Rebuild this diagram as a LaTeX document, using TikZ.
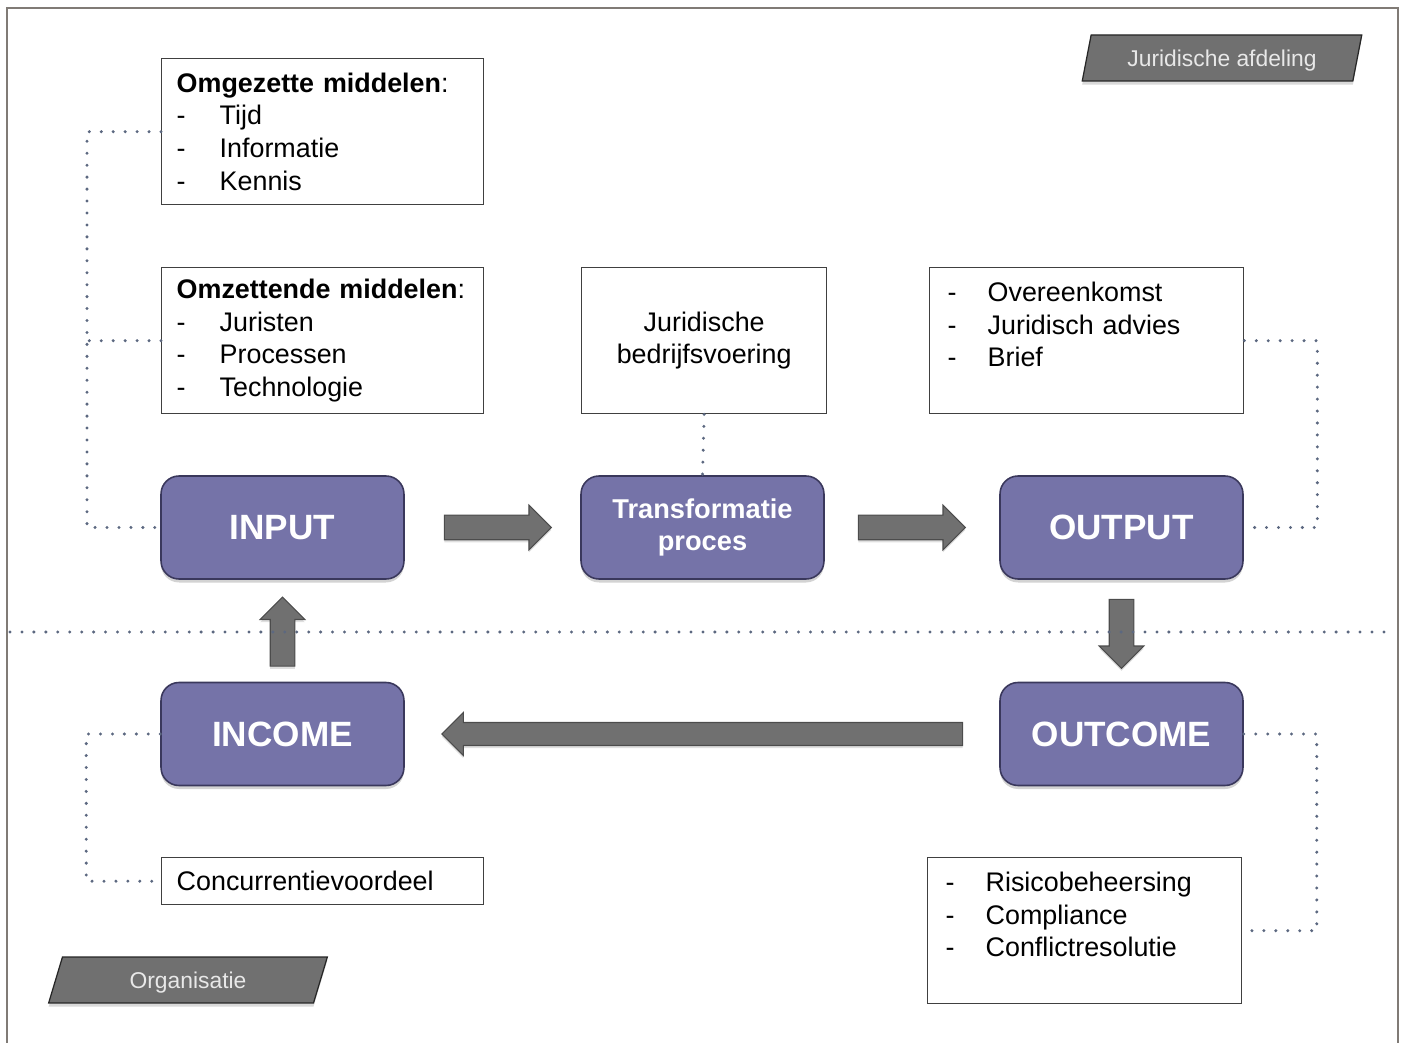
\documentclass[tikz,border=0pt]{standalone}
\usepackage{fontspec}
\setmainfont{Liberation Sans}
\usepackage{xcolor}
\usepackage{tikz}
\usetikzlibrary{shapes,arrows,positioning,calc,shadows}

\definecolor{phasefill}{RGB}{117,115,168}
\definecolor{phaseline}{RGB}{58,56,92}
\definecolor{arrowfill}{RGB}{112,112,112}
\definecolor{dotcol}{RGB}{92,104,128}
\definecolor{framecol}{RGB}{128,123,118}
\definecolor{tagfill}{RGB}{112,112,112}
\definecolor{tagtext}{RGB}{232,232,232}

\tikzset{
  phase/.style={rectangle, rounded corners=0.36cm, draw=phaseline, line width=0.9pt, fill=phasefill,
    text=white, font=\fontsize{20}{24}\selectfont\bfseries, align=center,
    minimum width=4.86cm, minimum height=2.06cm,
    drop shadow={shadow xshift=0pt, shadow yshift=-2pt, opacity=0.35}},
  infobox/.style={rectangle, draw=black!75, line width=0.8pt, fill=white, anchor=north west,
    font=\fontsize{15.3}{18.6}\selectfont, align=left, inner xsep=0.3cm, inner ysep=0pt},
  tag/.style={trapezium, trapezium stretches=true, trapezium left angle=76, trapezium right angle=104,
    draw=black!85, line width=0.7pt, fill=tagfill, text=tagtext, font=\fontsize{13}{15}\selectfont,
    minimum height=0.92cm, minimum width=5.6cm, inner sep=0pt, text height=1.2em,
    drop shadow={shadow xshift=0pt, shadow yshift=-2pt, opacity=0.3}},
  fatarrow/.style={single arrow, draw=black!70, line width=0.6pt, fill=arrowfill,
    inner sep=0.235cm, single arrow head extend=0.2cm, anchor=tail,
    drop shadow={shadow xshift=0pt, shadow yshift=-1.5pt, opacity=0.25}},
  dotline/.style={dotcol, line width=1.9pt, line cap=round, dash pattern=on 0pt off 6.8pt},
}

\newcommand{\li}[2][0.86cm]{\makebox[#1][l]{-}#2}

\begin{document}
\begin{tikzpicture}[x=0.02cm, y=-0.02cm]
    \useasboundingbox (0,0) rectangle (1404,1043);

    % frame
    \draw[framecol, line width=1.4pt] (7,1043) -- (7,8) -- (1398,8) -- (1398,1043);

    % section tags
    \node[tag] (jurtag) at (1222,58) {Juridische afdeling};
    \node[tag] (orgtag) at (188,980) {Organisatie};

    % upper boxes
    \node[infobox, text width=5.84cm, minimum height=2.92cm] (omgezet) at (161,58)
        {\textbf{Omgezette middelen}:\\ \li{Tijd}\\ \li{Informatie}\\ \li{Kennis}};
    \node[infobox, text width=5.84cm, minimum height=2.92cm] (omzettend) at (161,267)
        {\textbf{Omzettende middelen}:\\ \li{Juristen}\\ \li{Processen}\\ \li{Technologie}};
    \node[infobox, text width=4.3cm, minimum height=2.92cm, align=center] (jurbed) at (581,267)
        {Juridische\\ bedrijfsvoering};
    \node[infobox, text width=5.56cm, minimum height=2.92cm, inner xsep=0.36cm] (outlist) at (929,267)
        {\li[0.8cm]{Overeenkomst}\\ \li[0.8cm]{Juridisch advies}\\ \li[0.8cm]{Brief}\\ \mbox{}};

    % phases
    \node[phase] (input) at (282.5,527.5) {INPUT};
    \node[phase, font=\fontsize{15.5}{18.2}\selectfont\bfseries] (trans) at (702.5,527.5) {Transformatie\\ proces};
    \node[phase] (output) at (1121.5,527.5) {OUTPUT};
    \node[phase] (income) at (282.5,734) {INCOME};
    \node[phase] (outcome) at (1121.5,734) {OUTCOME};

    % lower boxes
    \node[infobox, text width=5.84cm, minimum height=0.94cm] (concur) at (161,857) {Concurrentievoordeel};
    \node[infobox, text width=5.56cm, minimum height=2.92cm, inner xsep=0.36cm] (outclist) at (927,857)
        {\li[0.8cm]{Risicobeheersing}\\ \li[0.8cm]{Compliance}\\ \li[0.8cm]{Conflictresolutie}\\ \mbox{}};

    % block arrows
    \node[fatarrow, minimum height=2.14cm] (a1) at ([xshift=0.78cm]input.east) {};
    \node[fatarrow, minimum height=2.14cm] (a2) at ([xshift=0.66cm]trans.east) {};
    \node[fatarrow, shape border rotate=270, minimum height=1.38cm] (a3) at ([yshift=-0.38cm]output.south) {};
    \node[fatarrow, shape border rotate=180, minimum height=10.42cm, inner sep=0.22cm] (a4) at ([xshift=-0.72cm]outcome.west) {};
    \node[fatarrow, shape border rotate=90, minimum height=1.38cm] (a5) at ([yshift=0.3cm]income.north) {};

    % dotted links
    \draw[dotline] (10,632) -- (1395,632);
    \draw[dotline] (omgezet.west) -- ++(-74,0) |- (input.west);
    \draw[dotline] (omzettend.west) -- ++(-74,0);
    \draw[dotline] (jurbed.south) -- (trans.north);
    \draw[dotline] (outlist.east) -- ++(73,0) |- (output.east);
    \draw[dotline] (income.west) -- ++(-74,0) |- (concur.west);
    \draw[dotline] (outcome.east) -- ++(73,0) |- (outclist.east);
\end{tikzpicture}
\end{document}
